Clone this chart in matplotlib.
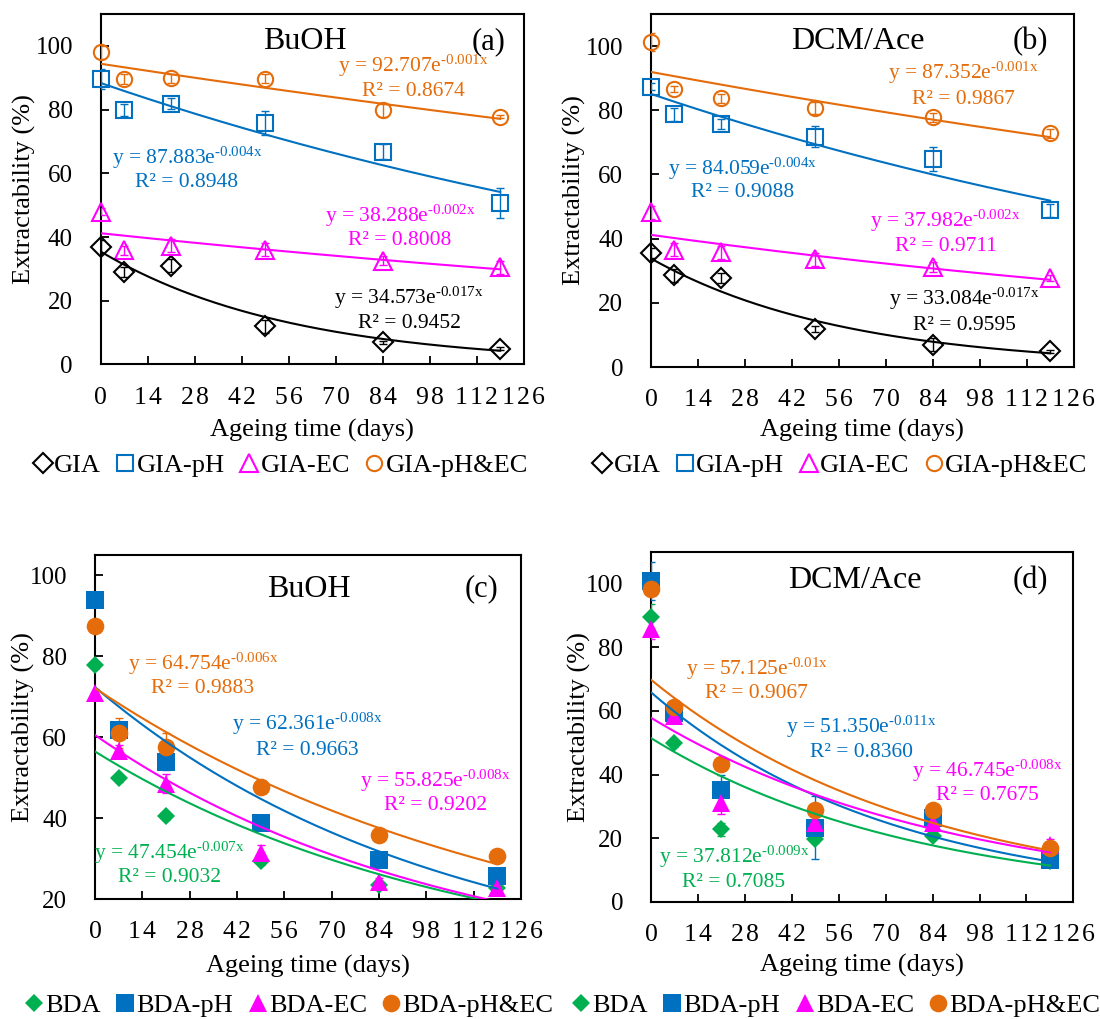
import numpy as np
import matplotlib
matplotlib.use("Agg")
import matplotlib.pyplot as plt
from matplotlib.lines import Line2D

plt.rcParams['font.family'] = ['Liberation Serif', 'DejaVu Serif']
plt.rcParams['mathtext.fontset'] = 'custom'
plt.rcParams['mathtext.rm'] = 'Liberation Serif'
plt.rcParams['mathtext.it'] = 'Liberation Serif:italic'

# ---------------- data ----------------
days = [0, 7, 21, 49, 84, 119]
x_ticks = [0, 14, 28, 42, 56, 70, 84, 98, 112, 126]
x_ticklabels = ['0', '14', '28', '42', '56', '70', '84', '98', '112', '126']

# (a) BuOH, GIA
a_gia      = [37.0, 29.0, 31.0, 12.0, 7.0, 5.0]
a_gia_err  = [2.0, 1.5, 2.0, 2.0, 0.5, 0.5]
a_ph       = [89.5, 79.8, 81.8, 75.8, 66.8, 50.8]
a_ph_err   = [3.1, 1.8, 1.7, 3.7, 2.3, 4.7]
a_ec       = [48.0, 35.8, 37.3, 36.0, 32.6, 30.5]
a_ec_err   = [1.0, 1.5, 2.0, 2.0, 1.5, 2.0]
a_phec     = [98.0, 89.6, 89.8, 89.7, 79.8, 77.8]
a_phec_err = [2.0, 1.6, 1.5, 1.5, 2.0, 0.5]

# (b) DCM/Ace, GIA
b_gia      = [35.6, 28.6, 27.8, 11.9, 7.0, 4.9]
b_gia_err  = [1.5, 2.0, 1.5, 1.0, 2.0, 0.5]
b_ph       = [87.4, 78.8, 75.7, 71.8, 64.8, 48.8]
b_ph_err   = [1.0, 2.0, 1.5, 3.4, 3.8, 2.0]
b_ec       = [48.2, 36.6, 35.8, 33.5, 31.2, 27.7]
b_ec_err   = [2.0, 2.0, 2.0, 2.0, 1.5, 1.0]
b_phec     = [101.3, 86.6, 83.7, 80.7, 77.8, 72.8]
b_phec_err = [2.9, 1.0, 1.5, 1.8, 1.3, 1.5]

# (c) BuOH, BDA
c_bda      = [77.9, 49.8, 40.5, 29.4, 23.5, 22.8]
c_bda_err  = [1.0, 1.0, 1.0, 1.0, 1.0, 1.0]
c_ph       = [94.0, 61.8, 53.8, 38.8, 29.7, 25.6]
c_ph_err   = [1.0, 2.0, 2.0, 1.0, 1.0, 1.0]
c_ec       = [70.8, 56.6, 48.5, 31.4, 24.3, 22.6]
c_ec_err   = [1.0, 1.5, 2.3, 2.0, 1.0, 1.0]
c_phec     = [87.5, 61.0, 57.5, 47.6, 35.7, 30.6]
c_phec_err = [1.0, 3.7, 3.6, 1.0, 1.0, 1.0]

# (d) DCM/Ace, BDA
d_bda      = [89.7, 49.8, 22.8, 19.6, 20.6, 12.9]
d_bda_err  = [4.0, 1.0, 2.0, 1.0, 1.0, 1.0]
d_ph       = [100.8, 59.3, 35.1, 23.3, 26.2, 13.1]
d_ph_err   = [6.0, 1.0, 4.7, 10.0, 3.0, 1.0]
d_ec       = [85.7, 58.5, 31.1, 24.9, 24.6, 17.8]
d_ec_err   = [3.0, 1.0, 3.5, 1.0, 1.0, 2.0]
d_phec     = [98.3, 61.2, 43.2, 29.0, 28.8, 16.9]
d_phec_err = [1.0, 1.0, 1.0, 1.0, 1.0, 1.0]

top_names = ['GIA', 'GIA-pH', 'GIA-EC', 'GIA-pH&EC']
bot_names = ['BDA', 'BDA-pH', 'BDA-EC', 'BDA-pH&EC']
solvents = ['BuOH', 'DCM/Ace', 'BuOH', 'DCM/Ace']
panel_tags = ['(a)', '(b)', '(c)', '(d)']

a_eq = [('34.573', '-0.017x', '0.9452'), ('87.883', '-0.004x', '0.8948'),
        ('38.288', '-0.002x', '0.8008'), ('92.707', '-0.001x', '0.8674')]
b_eq = [('33.084', '-0.017x', '0.9595'), ('84.059', '-0.004x', '0.9088'),
        ('37.982', '-0.002x', '0.9711'), ('87.352', '-0.001x', '0.9867')]
c_eq = [('47.454', '-0.007x', '0.9032'), ('62.361', '-0.008x', '0.9663'),
        ('55.825', '-0.008x', '0.9202'), ('64.754', '-0.006x', '0.9883')]
d_eq = [('37.812', '-0.009x', '0.7085'), ('51.350', '-0.011x', '0.8360'),
        ('46.745', '-0.008x', '0.7675'), ('57.125', '-0.01x', '0.9067')]

# ---------------- style ----------------
W, H = 1100, 1019
BLACK, BLUE, MAG, ORANGE, GREEN = '#000000', '#0070C0', '#FF00FF', '#E46C0A', '#00B050'
top_colors = [BLACK, BLUE, MAG, ORANGE]
bot_colors = [GREEN, BLUE, MAG, ORANGE]
markers = ['D', 's', '^', 'o']
open_ms = [10.0, 12.0, 12.5, 11.0]
fill_ms = [9.3, 12.7, 12.7, 12.7]

fig = plt.figure(figsize=(W / 100, H / 100), dpi=100)


def fx(px):
    return px / W


def fy(py):
    return 1 - py / H


def spaced(s):
    return '\u200a'.join(s)


panels = [
    dict(rect=(100.7, 523.7, 14, 364.5), ylim=(0, 110), yt=[0, 20, 40, 60, 80, 100],
         data=[(a_gia, a_gia_err), (a_ph, a_ph_err), (a_ec, a_ec_err), (a_phec, a_phec_err)],
         eq=a_eq, filled=False, colors=top_colors, names=top_names,
         title=(305, 49.3), tag=(489, 49.3),
         eqpos=[(409, 303.3, 328.3), (187, 163.3, 187.3), (400, 221.7, 245), (413.5, 71.5, 96)],
         ylab=-76, xlab=65.5, leg=(280.5, 465)),
    dict(rect=(651, 1073.6, 14, 367), ylim=(0, 110), yt=[0, 20, 40, 60, 80, 100],
         data=[(b_gia, b_gia_err), (b_ph, b_ph_err), (b_ec, b_ec_err), (b_phec, b_phec_err)],
         eq=b_eq, filled=False, colors=top_colors, names=top_names,
         title=(858, 49.3), tag=(1030, 49.3),
         eqpos=[(964, 305, 330), (742.5, 175, 197.3), (945.7, 226.7, 250.7), (963, 79, 104.5)],
         ylab=-76.5, xlab=63, leg=(840, 465)),
    dict(rect=(95, 521, 555, 899), ylim=(20, 105), yt=[20, 40, 60, 80, 100],
         data=[(c_bda, c_bda_err), (c_ph, c_ph_err), (c_ec, c_ec_err), (c_phec, c_phec_err)],
         eq=c_eq, filled=True, colors=bot_colors, names=bot_names,
         title=(308.5, 596.7), tag=(481, 596.7),
         eqpos=[(169, 858.3, 881.7), (307.5, 730, 755), (435.5, 786.7, 810), (203, 670, 693.3)],
         ylab=-71.5, xlab=67.7, leg=(289, 1005)),
    dict(rect=(651, 1073.4, 552, 901.7), ylim=(0, 110), yt=[0, 20, 40, 60, 80, 100],
         data=[(d_bda, d_bda_err), (d_ph, d_ph_err), (d_ec, d_ec_err), (d_phec, d_phec_err)],
         eq=d_eq, filled=True, colors=bot_colors, names=bot_names,
         title=(855, 588.3), tag=(1030.5, 588.3),
         eqpos=[(734, 863.3, 886.7), (861.7, 733, 756.7), (987.5, 776.7, 800), (756.5, 675, 698.3)],
         ylab=-72, xlab=63.3, leg=(836, 1005)),
]

for i, p in enumerate(panels):
    l, r, t, b = p['rect']
    ax = fig.add_axes([fx(l), fy(b), (r - l) / W, (b - t) / H])
    ax.set_xlim(0, 126)
    ax.set_ylim(*p['ylim'])
    ax.set_xticks(x_ticks)
    ax.set_xticklabels([spaced(s) for s in x_ticklabels])
    ax.set_yticks(p['yt'])
    for s in ax.spines.values():
        s.set_linewidth(1.5)
    ax.tick_params(direction='in', length=6, width=1.3, labelsize=18,
                   top=False, right=False)
    ax.tick_params(axis='x', pad=16, labelsize=18.5)
    ax.tick_params(axis='y', pad=20)

    xd = np.array(days, dtype=float)
    handles = []
    for k, ((vals, err), col) in enumerate(zip(p['data'], p['colors'])):
        vals = np.array(vals, dtype=float)
        if p['filled']:
            mkw = dict(marker=markers[k], ms=fill_ms[k], mfc=col, mec=col, mew=0)
        else:
            mkw = dict(marker=markers[k], ms=open_ms[k], mfc='none', mec=col, mew=1.5)
        ax.errorbar(xd, vals, yerr=err, fmt='none', ecolor=col, elinewidth=1.0,
                    capsize=3, capthick=1.0, zorder=3)
        ax.plot(xd, vals, linestyle='none', zorder=4, clip_on=False, **mkw)
        # exponential trend line (least squares on log values)
        slope, icpt = np.polyfit(xd, np.log(vals), 1)
        xf = np.linspace(xd.min(), xd.max(), 200)
        ax.plot(xf, np.exp(icpt) * np.exp(slope * xf), color=col, lw=1.5, zorder=5)
        handles.append(Line2D([], [], linestyle='none', label=p['names'][k], **mkw))

        a_s, e_s, r_s = p['eq'][k]
        cx, y1, y2 = p['eqpos'][k]
        e_txt = e_s.replace('-', '\u2010')
        fig.text(fx(cx), fy(y1), 'y = ' + a_s + 'e$^{\\mathrm{' + e_txt + '}}$',
                 ha='center', va='baseline', fontsize=15.5, color=col)
        fig.text(fx(cx), fy(y2), 'R² = ' + r_s, ha='center', va='baseline',
                 fontsize=15.5, color=col)

    fig.text(fx(p['title'][0]), fy(p['title'][1]), solvents[i], ha='center',
             va='baseline', fontsize=23)
    fig.text(fx(p['tag'][0]), fy(p['tag'][1]), panel_tags[i], ha='center',
             va='baseline', fontsize=22)

    ax.set_xlabel('Ageing time (days)', fontsize=19)
    ax.set_ylabel('Extractability (%)', fontsize=19)
    ax.xaxis.set_label_coords(0.5, -p['xlab'] / (b - t))
    ax.xaxis.label.set_va('center')
    ax.yaxis.set_label_coords(p['ylab'] / (r - l), 0.5)
    ax.yaxis.label.set_va('center')

    fig.legend(handles=handles, loc='center', ncol=4, frameon=False,
               bbox_to_anchor=(fx(p['leg'][0]), fy(p['leg'][1])),
               fontsize=19, handletextpad=0.05, columnspacing=0.55,
               handlelength=0.75, borderaxespad=0, borderpad=0)

fig.savefig('out.png', dpi=100)
